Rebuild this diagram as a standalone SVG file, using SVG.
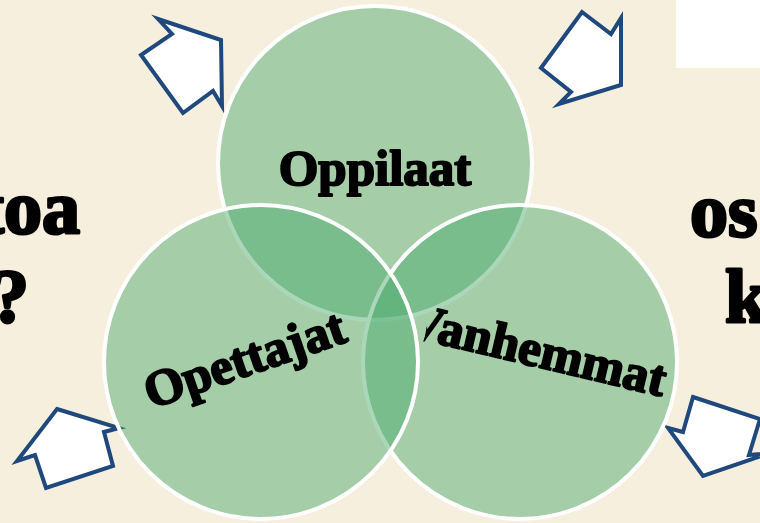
<svg xmlns="http://www.w3.org/2000/svg" width="760" height="523" viewBox="0 0 760 523">
  <defs>
    <style>
      .bg { fill: #F6EFDE; }
      .arrow { fill: #FFFFFF; stroke: #1F497D; stroke-width: 4; stroke-linejoin: miter; stroke-miterlimit: 10; }
      .circle { fill: #4AAB6C; fill-opacity: 0.47; stroke: #FFFFFF; stroke-width: 4; }
      .label { font-family: "Liberation Serif", "Times New Roman", serif; font-weight: bold; font-size: 51px; fill: #000000; stroke: #000000; stroke-width: 2; stroke-linejoin: round; }
      .side { font-family: "Liberation Serif", "Times New Roman", serif; font-weight: bold; font-size: 76px; fill: #000000; stroke: #000000; stroke-width: 3; stroke-linejoin: round; }
    </style>
    <clipPath id="outsideLeft">
      <path clip-rule="evenodd" d="M0 0H760V523H0Z M101 362a160 160 0 1 0 320 0a160 160 0 1 0 -320 0Z"/>
    </clipPath>
  </defs>

  <rect class="bg" x="0" y="0" width="760" height="523"/>
  <rect x="676" y="0" width="84" height="68" fill="#FFFFFF"/>

  <g id="side-texts">
    <text class="side" x="80" y="233" text-anchor="end">toa</text>
    <text class="side" x="29" y="322" text-anchor="end">?</text>
    <text class="side" x="690" y="236">os</text>
    <text class="side" x="725" y="322">k</text>
  </g>

  <g id="connectors">
    <polygon class="arrow" points="158,19 221,40 222,106 213,91 183,113 141,55 172,34"/>
    <polygon class="arrow" points="582,12 611,34 621,18 621,85 559,104 571,92 541,68"/>
    <polygon class="arrow" points="57,409 119,428 104,432 113,466 46,488 35,455 17,461"/>
    <polygon class="arrow" points="693,397 760,419 749,455 770,453 703,476 668,428 683,432"/>
  </g>

  <g id="node-oppilaat">
    <circle class="circle" cx="375" cy="163" r="157"/>
    <text class="label" x="375" y="185" text-anchor="middle">Oppilaat</text>
  </g>

  <g id="node-vanhemmat">
    <circle class="circle" cx="520" cy="362" r="157"/>
    <text class="label" x="533" y="366" text-anchor="middle" transform="rotate(13.3 533 366)" clip-path="url(#outsideLeft)">Vanhemmat</text>
  </g>

  <g id="node-opettajat">
    <circle class="circle" cx="261" cy="362" r="157"/>
    <text class="label" x="250" y="375" text-anchor="middle" transform="rotate(-19 250 375)">Opettajat</text>
  </g>
</svg>
